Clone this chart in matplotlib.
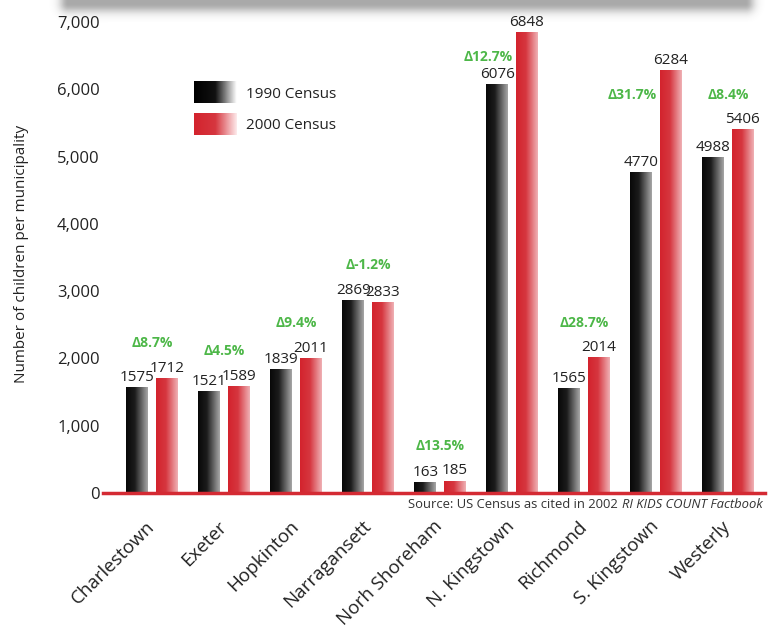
import numpy as np
import matplotlib
matplotlib.use('Agg')
import matplotlib.pyplot as plt
from matplotlib.colors import LinearSegmentedColormap

plt.rcParams['font.family'] = ['Open Sans', 'DejaVu Sans']

# Children per municipality, 1990 and 2000 census
towns = ['Charlestown', 'Exeter', 'Hopkinton', 'Narragansett', 'Norh Shoreham',
         'N. Kingstown', 'Richmond', 'S. Kingstown', 'Westerly']
census_1990 = [1575, 1521, 1839, 2869, 163, 6076, 1565, 4770, 4988]
census_2000 = [1712, 1589, 2011, 2833, 185, 6848, 2014, 6284, 5406]
change_labels = ['Δ8.7%', 'Δ4.5%', 'Δ9.4%', 'Δ-1.2%', 'Δ13.5%',
                 'Δ12.7%', 'Δ28.7%', 'Δ31.7%', 'Δ8.4%']
# towns where the change label sits beside the 2000 bar instead of above
side_label_towns = ['N. Kingstown', 'S. Kingstown']

W, H = 769, 627
fig = plt.figure(figsize=(W / 100, H / 100), dpi=100)
ax = fig.add_axes([108 / W, 1 - 493 / H, 657 / W, 471 / H])

black_cmap = LinearSegmentedColormap.from_list(
    'blk', [(0, '#080808'), (0.4, '#1c1c1c'), (1, '#a6a6a6')])
red_cmap = LinearSegmentedColormap.from_list(
    'red', [(0, '#d3232d'), (0.45, '#d6363f'), (1, '#efb0b4')])
grad = np.linspace(0, 1, 64).reshape(1, -1)

x = np.arange(len(towns))
bw = 0.305
off = 0.205


def gradient_bars(xpos, heights, cmap):
    bars = ax.bar(xpos, heights, width=bw, color='none', edgecolor='none')
    for rect in bars:
        x0 = rect.get_x()
        img = ax.imshow(grad, cmap=cmap, aspect='auto',
                        extent=[x0, x0 + rect.get_width(), 0, rect.get_height()],
                        zorder=2)
        img.set_clip_path(rect)
    return bars


gradient_bars(x - off, census_1990, black_cmap)
gradient_bars(x + off, census_2000, red_cmap)

# value labels on top of each bar
for xi, v in zip(x - off, census_1990):
    ax.annotate(str(v), (xi, v), xytext=(0, 1.5), textcoords='offset points',
                ha='center', va='bottom', fontsize=11, color='#222222')
for xi, v in zip(x + off, census_2000):
    ax.annotate(str(v), (xi, v), xytext=(0, 1.5), textcoords='offset points',
                ha='center', va='bottom', fontsize=11, color='#222222')

# percent change labels
green = '#4db748'
for i, town in enumerate(towns):
    if town in side_label_towns:
        ax.annotate(change_labels[i], (x[i] + off - bw / 2, census_2000[i]),
                    xytext=(-2, -18), textcoords='offset points',
                    ha='right', va='center', fontsize=10, fontweight='bold',
                    color=green)
    else:
        top = max(census_1990[i], census_2000[i])
        ax.annotate(change_labels[i], (x[i], top), xytext=(0, 25),
                    textcoords='offset points', ha='center', va='center',
                    fontsize=10, fontweight='bold', color=green)

ax.set_xlim(-0.611, 8.514)
ax.set_ylim(0, 7000)
ax.plot([-0.68, 8.514], [0, 0], color='#d42a33', lw=2.5, clip_on=False, zorder=3)

ax.set_yticks(range(0, 7001, 1000))
ax.set_yticklabels([f'{v:,}' for v in range(0, 7001, 1000)])
ax.tick_params(axis='y', length=0, pad=6, labelsize=12, labelcolor='#222222')
ax.set_xticks(x)
ax.set_xticklabels(towns, rotation=45, ha='right', va='center',
                   rotation_mode='anchor')
ax.tick_params(axis='x', length=0, pad=22, labelsize=13.5, labelcolor='#222222')
for s in ax.spines.values():
    s.set_visible(False)

fig.text(22 / W, 1 - 254 / H, 'Number of children per municipality',
         rotation=90, ha='center', va='center', fontsize=11, color='#222222')

# source line: plain part followed by italic title
src_it = fig.text(763 / W, 1 - 505 / H, 'RI KIDS COUNT Factbook', ha='right',
                  va='center', fontsize=9.4, style='italic', color='#333333')
fig.canvas.draw()
bb = src_it.get_window_extent()
fig.text((bb.x0 - 4) / W, 1 - 505 / H, 'Source: US Census as cited in 2002',
         ha='right', va='center', fontsize=9.4, color='#333333')

# legend with gradient swatches
leg_black = LinearSegmentedColormap.from_list('lb', ['#000000', '#111111', '#ffffff'])
leg_red = LinearSegmentedColormap.from_list('lr', ['#d3232d', '#d6363f', '#fde9ea'])
for (ytop, cmap, label) in [(81, leg_black, '1990 Census'), (113, leg_red, '2000 Census')]:
    sw = fig.add_axes([194 / W, 1 - (ytop + 22) / H, 43 / W, 22 / H])
    sw.imshow(grad, cmap=cmap, aspect='auto')
    sw.axis('off')
    fig.text(246 / W, 1 - (ytop + 13) / H, label, ha='left', va='center',
             fontsize=11, color='#222222')

# soft grey shadow band along the top edge
yy, xx = np.mgrid[0:40, 0:W]
dx = np.maximum(np.maximum(68 - xx, xx - 745), 0)
dy = np.maximum(yy - 3, 0)
d = np.hypot(dx, dy)
alpha = 0.45 * np.exp(-(d / 9.0) ** 2)
shade = np.zeros((40, W, 4))
shade[..., :3] = 0.25
shade[..., 3] = alpha
sh = fig.add_axes([0, 1 - 40 / H, 1, 40 / H])
sh.imshow(shade, aspect='auto', interpolation='bilinear')
sh.axis('off')
sh.set_zorder(-1)

fig.savefig('out.png', dpi=100)
